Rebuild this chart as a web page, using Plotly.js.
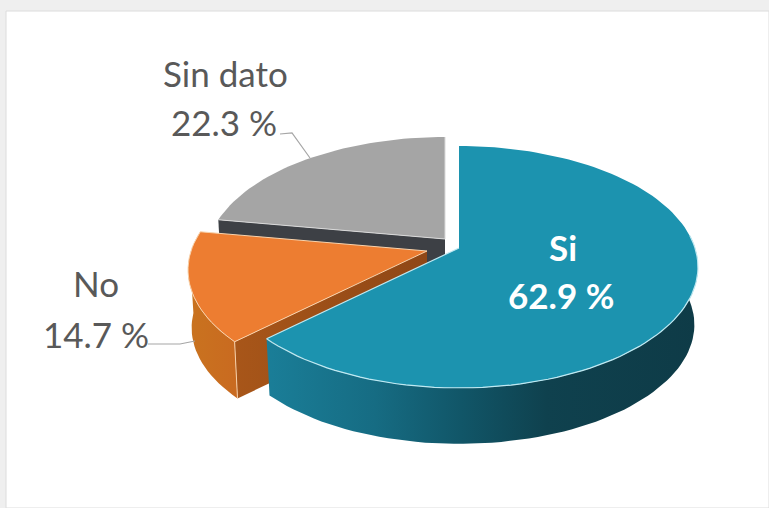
<!DOCTYPE html>
<html>
<head>
<meta charset="utf-8">
<script src="https://cdn.plot.ly/plotly-3.0.1.min.js"></script>
<style>html,body{margin:0;padding:0;background:#fff}#c{width:769px;height:508px}</style>
</head>
<body>
<div id="c"></div>
<script>
// Data
const categories = ["Si", "No", "Sin dato"];
const values = [62.9, 14.7, 22.3];
const percentLabels = ["62.9 %", "14.7 %", "22.3 %"];

// Style and projection of the tilted pie
const topColors = ["#1c93af", "#ed7d31", "#a5a5a5"];
const pivots = [[459, 248], [427, 251], [445, 239]];
const namePos = [[563, 247], [96, 283], [225, 73]];
const pctPos = [[561, 295], [96, 334], [224, 122]];
const labelColors = ["#ffffff", "#595959", "#595959"];
const R = 236, S = 118, K = 0.157, DEPTH = 58, BOTTOM_SCALE = 0.985;

const total = values.reduce((a, b) => a + b, 0);
const ranges = [];
let acc = 0;
values.forEach(v => { ranges.push([acc, acc + v / total * 360]); acc += v / total * 360; });

function proj(i, deg, bottom) {
  const t = deg * Math.PI / 180, X = Math.sin(t), Y = -Math.cos(t), w = 1 - K * Y;
  const f = bottom ? BOTTOM_SCALE : 1;
  return [pivots[i][0] + f * R * X / w, pivots[i][1] + f * S * Y / w + (bottom ? DEPTH : 0)];
}
function arc(i, a, b, bottom) {
  const pts = [], n = Math.max(2, Math.ceil(Math.abs(b - a) / 2));
  for (let k = 0; k <= n; k++) pts.push(proj(i, a + (b - a) * k / n, bottom));
  return pts;
}
function poly(pts, name, color, gradient) {
  const tr = {
    type: "scatter", mode: "lines", name: name, hoverinfo: "skip", showlegend: false,
    x: pts.map(p => p[0]), y: pts.map(p => p[1]), fill: "toself",
    line: {width: 0, color: color}, fillcolor: color
  };
  if (gradient) tr.fillgradient = {type: "horizontal", colorscale: gradient};
  return tr;
}
function rim(pts, name, color, width) {
  return {
    type: "scatter", mode: "lines", name: name, hoverinfo: "skip", showlegend: false,
    x: pts.map(p => p[0]), y: pts.map(p => p[1]), line: {width: width || 1, color: color}
  };
}
function wall(i, a, b, name, color, gradient) {
  a = Math.max(a, 84); b = Math.min(b, 268);
  return poly(arc(i, a, b, false).concat(arc(i, b, a, true)), name, color, gradient);
}
function cut(i, deg, name, color, gradient) {
  const pv = pivots[i], c = proj(i, deg, false), d = proj(i, deg, true);
  return poly([pv, c, d, [pv[0], pv[1] + DEPTH], pv], name, color, gradient);
}
function face(i, name) {
  const [a, b] = ranges[i];
  return poly([pivots[i]].concat(arc(i, a, b, false), [pivots[i]]), name, topColors[i]);
}

const [rSi, rNo, rSd] = ranges;
const data = [
  // Sin dato
  cut(2, rSd[0], categories[2] + " cut", "#3d4045"),
  face(2, categories[2]),
  rim([proj(2, rSd[0], false), pivots[2], proj(2, rSd[1], false)], categories[2] + " rim", "#d9d9d9", 1),
  // No
  cut(1, rNo[0], categories[1] + " cut", "#a3531b", [[0, "#a85619"], [1, "#8f4716"]]),
  wall(1, rNo[0], rNo[1], categories[1] + " wall", "#c96a20", [[0, "#c9731f"], [1, "#c96a20"]]),
  rim([proj(1, rNo[0], false), proj(1, rNo[0], true)], categories[1] + " edge", "#f6cfa8", 1),
  face(1, categories[1]),
  rim(arc(1, rNo[1], rNo[0], false).concat([pivots[1], proj(1, rNo[1], false)]), categories[1] + " rim", "#f8d3ad", 1),
  // Si
  wall(0, rSi[0], rSi[1], categories[0] + " wall", "#0f4350",
    [[0, "#1a7e98"], [0.25, "#166c83"], [0.45, "#115668"], [0.65, "#0f414e"], [1, "#0e3b47"]]),
  face(0, categories[0]),
  rim(arc(0, 84, rSi[1], false).concat([pivots[0]]), categories[0] + " rim", "#bfe9f2", 1.2)
];

function label(text, pos, i) {
  return {
    x: pos[0], y: pos[1], xref: "x", yref: "y", text: text, showarrow: false,
    align: "center", xanchor: "center", yanchor: "middle",
    font: {family: "Lato, Carlito, sans-serif", size: 35, color: labelColors[i], weight: i === 0 ? 700 : 400}
  };
}
const annotations = categories.map((c, i) => label(c, namePos[i], i))
  .concat(percentLabels.map((p, i) => label(p, pctPos[i], i)));

const shapes = [
  {type: "rect", xref: "x", yref: "y", layer: "below", x0: 6, y0: 11, x1: 769, y1: 508,
   fillcolor: "#ffffff", line: {color: "#dcdcdc", width: 1}},
  {type: "path", xref: "x", yref: "y", path: "M280 134 L292 133 L310 158", line: {color: "#a6a6a6", width: 1.2}},
  {type: "path", xref: "x", yref: "y", path: "M148 344 L180 344 L195 341", line: {color: "#a6a6a6", width: 1.2}}
];

const hidden = {visible: false, fixedrange: true};
Plotly.newPlot("c", data, {
  width: 769, height: 508, margin: {l: 0, r: 0, t: 0, b: 0, pad: 0},
  paper_bgcolor: "#efefef", plot_bgcolor: "rgba(0,0,0,0)", showlegend: false,
  xaxis: Object.assign({range: [0, 769]}, hidden),
  yaxis: Object.assign({range: [508, 0]}, hidden),
  shapes: shapes, annotations: annotations
}, {displayModeBar: false, staticPlot: true});
</script>
</body>
</html>
